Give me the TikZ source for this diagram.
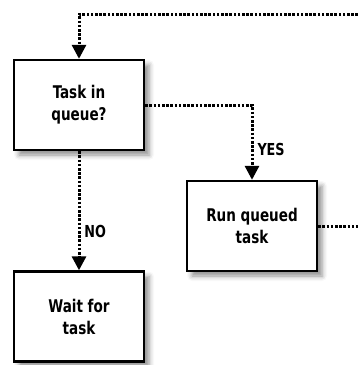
\documentclass[tikz,border=0pt]{standalone}
\usepackage{fontspec}
\setmainfont{DejaVu Sans Condensed}[FakeStretch=0.86]
\usetikzlibrary{arrows.meta,shadows.blur}

\begin{document}
\begin{tikzpicture}
[x=1pt,y=-1pt]
\tikzset{box/.style={draw,line width=2.4pt,fill=white,minimum width=130pt,minimum height=90pt,align=center,font=\bfseries\fontsize{17.5}{22}\selectfont,
  blur shadow={shadow xshift=5pt,shadow yshift=-5pt,shadow blur radius=5pt,shadow opacity=45}},
  flow/.style={line width=3pt,dash pattern=on 2.6pt off 1.6pt},
  tip/.style={-{Triangle[length=14pt,width=14pt]}},
  lbl/.style={font=\bfseries\fontsize{16.5}{18}\selectfont,inner sep=1pt}}
\useasboundingbox (0,0) rectangle (358,365);
\node [box] (task) at (79,105) {Task in\\queue?};
\node [box] (run) at (252,226) {Run queued\\task};
\node [box] (wait) at (79,316.5) {Wait for\\task};
\coordinate (back) at (358,14);
\coordinate (out) at (358,226);

\draw [flow,tip] (back) -| (task);
\draw [flow,tip] (task) -| node [lbl,pos=.8,anchor=west,xshift=3pt] {YES} (run);
\draw [flow,tip] (task) -- node [lbl,pos=.67,anchor=west,xshift=3pt] {NO} (wait);
\draw [flow] (run) -- (out);

\end{tikzpicture}
\end{document}
